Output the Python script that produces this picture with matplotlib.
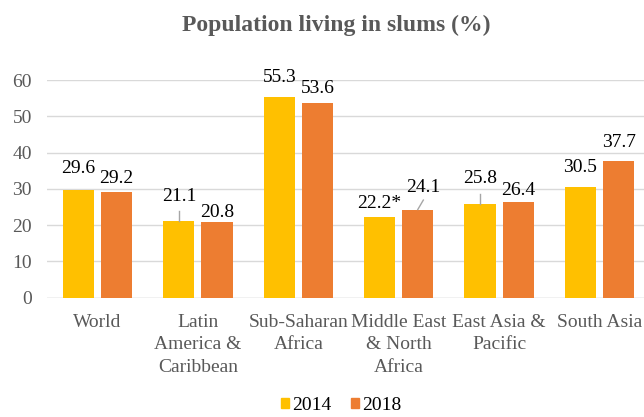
import numpy as np
import matplotlib.pyplot as plt
from matplotlib.patches import Patch

categories = ['World', 'Latin\nAmerica &\nCaribbean', 'Sub-Saharan\nAfrica',
              'Middle East\n& North\nAfrica', 'East Asia &\nPacific', 'South Asia']
years = ['2014', '2018']
values_2014 = [29.6, 21.1, 55.3, 22.2, 25.8, 30.5]
values_2018 = [29.2, 20.8, 53.6, 24.1, 26.4, 37.7]
labels_2014 = ['29.6', '21.1', '55.3', '22.2*', '25.8', '30.5']
labels_2018 = ['29.2', '20.8', '53.6', '24.1', '26.4', '37.7']

# label placement (height of label above the bar, data units) -- Excel labels were moved by hand
lift_2014 = [6.0, 6.7, 5.4, 3.8, 7.1, 5.4]
lift_2018 = [3.7, 2.8, 4.1, 6.3, 3.2, 5.1]
shift_2018 = [0, 0, 0, 0.05, 0, 0]

colors = ['#FFC000', '#ED7D31']
grey = '#595959'

plt.rcParams['font.family'] = ['Liberation Serif', 'DejaVu Serif']

fig = plt.figure(figsize=(6.44, 4.17), dpi=100)
ax = fig.add_axes([0.0735, 0.2863, 0.9354, 0.5218])

x = np.arange(len(categories))
w = 0.31
off = 0.19
ax.bar(x - off, values_2014, w, color=colors[0], zorder=3)
ax.bar(x + off, values_2018, w, color=colors[1], zorder=3)

for i in range(len(categories)):
    ax.text(x[i] - off, values_2014[i] + lift_2014[i], labels_2014[i], ha='center', va='center',
            fontsize=14, color='black', clip_on=False)
    ax.text(x[i] + off + shift_2018[i], values_2018[i] + lift_2018[i], labels_2018[i], ha='center',
            va='center', fontsize=14, color='black', clip_on=False)

# leader lines
ax.plot([x[1] - off, x[1] - off], [values_2014[1], values_2014[1] + 2.8], color='#A6A6A6', lw=1, zorder=4)
ax.plot([x[4] - off, x[4] - off], [values_2014[4], values_2014[4] + 2.9], color='#A6A6A6', lw=1, zorder=4)
ax.plot([x[3] + off, x[3] + off + 0.055], [values_2018[3] + 0.2, values_2018[3] + 2.8], color='#A6A6A6', lw=1, zorder=4)

ax.set_xlim(-0.5, 5.5)
ax.set_ylim(0, 60)
ax.set_yticks(range(0, 61, 10))
ax.yaxis.grid(True, color='#D9D9D9', lw=1, zorder=0)
ax.set_axisbelow(True)
for s in ax.spines.values():
    s.set_visible(False)
ax.axhline(0, color='#D9D9D9', lw=1, zorder=2)

ax.set_xticks(x)
ax.set_xticklabels(categories, fontsize=14, color=grey, linespacing=1.4)
ax.tick_params(axis='x', length=0, pad=12)
ax.tick_params(axis='y', length=0, pad=11, labelsize=14, labelcolor=grey)

fig.text(0.5225, 1 - 25 / 417, 'Population living in slums (%)', ha='center', va='center',
         fontsize=17, fontweight='bold', color=grey)

handles = [Patch(color=colors[0], label=years[0]), Patch(color=colors[1], label=years[1])]
fig.legend(handles=handles, loc='center', bbox_to_anchor=(341 / 644, 1 - 405 / 417), ncol=2,
           frameon=False, fontsize=14, handlelength=0.42, handleheight=0.42,
           handletextpad=0.15, columnspacing=1.0, labelcolor='black')

fig.savefig('out.png', dpi=100)
